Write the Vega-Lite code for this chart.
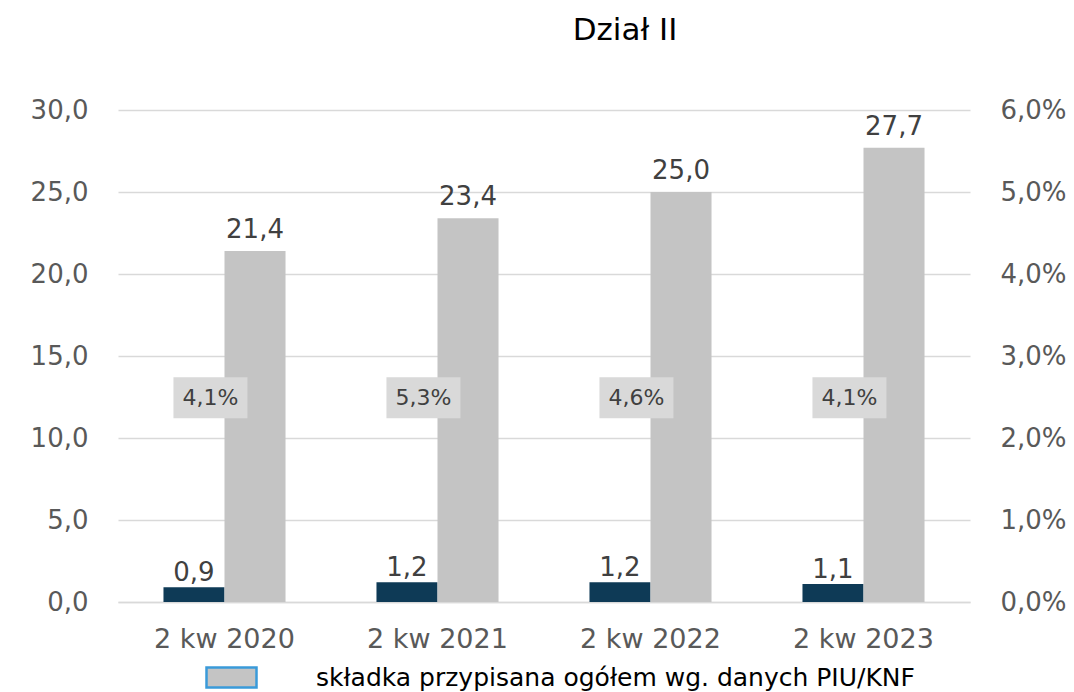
{
  "$schema": "https://vega.github.io/schema/vega-lite/v6.json",
  "autosize": {"type": "none"},
  "width": 852,
  "height": 492,
  "padding": {"left": 118, "top": 110, "right": 104, "bottom": 90},
  "background": "white",
  "title": {"text": "Dział II", "fontSize": 31, "font": "DejaVu Sans", "fontWeight": "normal", "color": "#000000", "anchor": "middle", "dx": 81, "offset": 50},
  "config": {
    "locale": {"number": {"decimal": ",", "thousands": " ", "grouping": [3], "currency": ["", " zł"]}},
    "view": {"stroke": null},
    "font": "DejaVu Sans"
  },
  "datasets": {
    "bars": [
      {"q": "2 kw 2020", "series": "dział", "value": 0.9},
      {"q": "2 kw 2020", "series": "składka przypisana ogółem wg. danych PIU/KNF", "value": 21.4},
      {"q": "2 kw 2021", "series": "dział", "value": 1.2},
      {"q": "2 kw 2021", "series": "składka przypisana ogółem wg. danych PIU/KNF", "value": 23.4},
      {"q": "2 kw 2022", "series": "dział", "value": 1.2},
      {"q": "2 kw 2022", "series": "składka przypisana ogółem wg. danych PIU/KNF", "value": 25.0},
      {"q": "2 kw 2023", "series": "dział", "value": 1.1},
      {"q": "2 kw 2023", "series": "składka przypisana ogółem wg. danych PIU/KNF", "value": 27.7}
    ],
    "pct": [
      {"q": "2 kw 2020", "pct": 0.041},
      {"q": "2 kw 2021", "pct": 0.053},
      {"q": "2 kw 2022", "pct": 0.046},
      {"q": "2 kw 2023", "pct": 0.041}
    ]
  },
  "layer": [
    {
      "layer": [
        {
          "data": {"name": "bars"},
          "mark": {"type": "bar"},
          "encoding": {
            "x": {"field": "q", "type": "nominal", "sort": null,
              "scale": {"paddingInner": 0.427, "paddingOuter": 0.2135},
              "axis": {"title": null, "labelAngle": 0, "labelFontSize": 27, "labelColor": "#595959", "labelPadding": 24, "ticks": false, "domain": true, "domainColor": "#d9d9d9", "domainWidth": 1.5, "labelFont": "DejaVu Sans"}},
            "xOffset": {"field": "series", "type": "nominal", "scale": {"domain": ["dział", "składka przypisana ogółem wg. danych PIU/KNF"], "paddingInner": 0, "paddingOuter": 0}},
            "y": {"field": "value", "type": "quantitative",
              "scale": {"domain": [0, 30], "nice": false},
              "axis": {"title": null, "values": [0, 5, 10, 15, 20, 25, 30], "format": ".1f", "labelFontSize": 26, "labelColor": "#595959", "labelPadding": 30, "ticks": false, "domain": false, "gridColor": "#d9d9d9", "gridWidth": 1.5, "labelFont": "DejaVu Sans"}},
            "color": {"field": "series", "type": "nominal",
              "scale": {"domain": ["składka przypisana ogółem wg. danych PIU/KNF", "dział"], "range": ["#c4c4c4", "#0e3a56"]},
              "legend": {"title": null, "values": ["składka przypisana ogółem wg. danych PIU/KNF"], "orient": "none", "legendX": 87, "legendY": 541,
                "symbolType": "M-1,-0.4L1,-0.4L1,0.4L-1,0.4Z", "symbolSize": 2500, "symbolStrokeColor": "#3a9ad9", "symbolStrokeWidth": 2.5, "symbolOpacity": 1,
                "labelFontSize": 25, "labelColor": "#000000", "labelOffset": 58, "labelLimit": 900, "labelFont": "DejaVu Sans"}}
          }
        },
        {
          "data": {"name": "bars"},
          "transform": [{"filter": "datum.series == 'dział'"}],
          "mark": {"type": "text", "baseline": "bottom", "dy": -1, "fontSize": 26, "color": "#404040", "font": "DejaVu Sans"},
          "encoding": {
            "x": {"field": "q", "type": "nominal", "sort": null},
            "xOffset": {"field": "series", "type": "nominal"},
            "y": {"field": "value", "type": "quantitative"},
            "text": {"field": "value", "type": "quantitative", "format": ".1f"}
          }
        },
        {
          "data": {"name": "bars"},
          "transform": [{"filter": "datum.series != 'dział'"}],
          "mark": {"type": "text", "baseline": "bottom", "dy": -8, "fontSize": 26, "color": "#404040", "font": "DejaVu Sans"},
          "encoding": {
            "x": {"field": "q", "type": "nominal", "sort": null},
            "xOffset": {"field": "series", "type": "nominal"},
            "y": {"field": "value", "type": "quantitative"},
            "text": {"field": "value", "type": "quantitative", "format": ".1f"}
          }
        },
        {
          "data": {"name": "pct"},
          "mark": {"type": "point", "shape": "M-1.38,-0.554L0.62,-0.554L0.62,0.554L-1.38,0.554Z", "size": 5476, "filled": true, "color": "#d9d9d9", "opacity": 1, "strokeWidth": 0},
          "encoding": {
            "x": {"field": "q", "type": "nominal", "sort": null},
            "y": {"datum": 12.45, "type": "quantitative"}
          }
        },
        {
          "data": {"name": "pct"},
          "mark": {"type": "text", "baseline": "middle", "dx": -14, "fontSize": 22, "color": "#404040", "font": "DejaVu Sans"},
          "encoding": {
            "x": {"field": "q", "type": "nominal", "sort": null},
            "y": {"datum": 12.45, "type": "quantitative"},
            "text": {"field": "pct", "type": "quantitative", "format": ".1%"}
          }
        }
      ]
    },
    {
      "data": {"name": "pct"},
      "mark": {"type": "point", "opacity": 0},
      "encoding": {
        "x": {"field": "q", "type": "nominal", "sort": null},
        "y": {"field": "pct", "type": "quantitative",
          "scale": {"domain": [0, 0.06], "nice": false},
          "axis": {"orient": "right", "title": null, "values": [0, 0.01, 0.02, 0.03, 0.04, 0.05, 0.06], "format": ".1%", "labelFontSize": 26, "labelColor": "#595959", "labelPadding": 30, "ticks": false, "domain": false, "grid": false, "labelFont": "DejaVu Sans"}}
      }
    }
  ],
  "resolve": {"scale": {"y": "independent"}}
}
